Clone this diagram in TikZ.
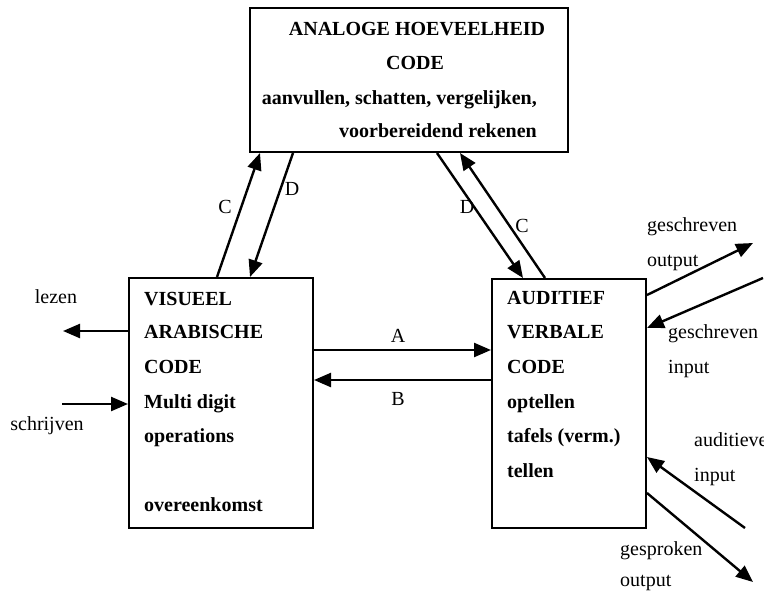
\documentclass[tikz,border=0pt]{standalone}
\usepackage{fontspec}
\setmainfont{Liberation Serif}
\usetikzlibrary{arrows.meta,calc}
\tikzset{
  codebox/.style={draw, line width=2pt, minimum width=#1, inner sep=0pt, anchor=north west},
  btxt/.style={font=\fontsize{20}{24}\selectfont\bfseries, inner sep=0pt, anchor=base west},
  lbl/.style={font=\fontsize{20}{24}\selectfont, inner sep=0pt, anchor=base west},
  clbl/.style={font=\fontsize{20}{24}\selectfont, inner sep=0pt, anchor=base},
  arr/.style={line width=2.4pt, -{Triangle[length=17pt,width=14pt]}}
}
\begin{document}
\begin{tikzpicture}[x=1pt,y=-1pt]
\useasboundingbox (0,0) rectangle (764,592);
% boxes
\node[codebox=318pt, minimum height=144pt] (top) at (249,7) {};
\node[codebox=184pt, minimum height=250pt] (lbox) at (128,277) {};
\node[codebox=154pt, minimum height=249pt] (rbox) at (491,278) {};
% top box text
\node[btxt, anchor=base] (t1) at (417,35) {ANALOGE HOEVEELHEID};
\node[btxt, anchor=base] (t2) at (415,69) {CODE};
\node[btxt, anchor=base east] (t3) at (537,104) {aanvullen, schatten, vergelijken,};
\node[btxt, anchor=base east] (t4) at (537,137) {voorbereidend rekenen};
% left box text
\node[btxt] (l1) at (144,305) {VISUEEL};
\node[btxt] (l2) at (144,338) {ARABISCHE};
\node[btxt] (l3) at (144,373) {CODE};
\node[btxt] (l4) at (144,408) {Multi digit};
\node[btxt] (l5) at (144,442) {operations};
\node[btxt] (l6) at (144,511) {overeenkomst};
% right box text
\node[btxt] (r1) at (507,304) {AUDITIEF};
\node[btxt] (r2) at (507,338) {VERBALE};
\node[btxt] (r3) at (507,373) {CODE};
\node[btxt] (r4) at (507,408) {optellen};
\node[btxt] (r5) at (507,442) {tafels (verm.)};
\node[btxt] (r6) at (507,477) {tellen};
% free ends
\coordinate (lezenEnd) at (63,331);
\coordinate (schrStart) at (62,404);
\coordinate (gsoEnd) at (753,243);
\coordinate (gsiStart) at (763,278);
\coordinate (audStart) at (745,528);
\coordinate (gspEnd) at (753,582);
% arrows between boxes
\draw[arr] ($(lbox.north west)+(89,0)$) -- ($(top.south west)+(11,0)$);
\draw[arr] ($(top.south west)+(44,0)$) -- ($(lbox.north west)+(122,0)$);
\draw[arr] ($(top.south west)+(188,0)$) -- ($(rbox.north west)+(32,0)$);
\draw[arr] ($(rbox.north west)+(54,0)$) -- ($(top.south west)+(211,0)$);
\draw[arr] ($(lbox.north east)+(0,73)$) -- ($(rbox.north west)+(0,72)$);
\draw[arr] ($(rbox.north west)+(0,102)$) -- ($(lbox.north east)+(0,103)$);
% external arrows
\draw[arr] ($(lbox.north west)+(0,54)$) -- (lezenEnd);
\draw[arr] (schrStart) -- ($(lbox.north west)+(0,127)$);
\draw[arr] ($(rbox.north east)+(0,17)$) -- (gsoEnd);
\draw[arr] (gsiStart) -- ($(rbox.north east)+(0,50)$);
\draw[arr] (audStart) -- ($(rbox.north east)+(0,179)$);
\draw[arr] ($(rbox.north east)+(0,215)$) -- (gspEnd);
% arrow labels
\node[clbl] (cL) at (225,213) {C};
\node[clbl] (dL) at (292,195) {D};
\node[clbl] (dR) at (467,213) {D};
\node[clbl] (cR) at (522,232) {C};
\node[clbl] (aL) at (398,342) {A};
\node[clbl] (bL) at (398,405) {B};
% external labels
\node[clbl] (lez) at (56,303) {lezen};
\node[clbl] (sch) at (47,430) {schrijven};
\node[lbl] (go1) at (647,231) {geschreven};
\node[lbl] (go2) at (647,266) {output};
\node[lbl] (gi1) at (668,338) {geschreven};
\node[lbl] (gi2) at (668,373) {input};
\node[lbl] (ai1) at (694,446) {auditieve};
\node[lbl] (ai2) at (694,481) {input};
\node[lbl] (sp1) at (620,555) {gesproken};
\node[lbl] (sp2) at (620,586) {output};
\end{tikzpicture}
\end{document}
